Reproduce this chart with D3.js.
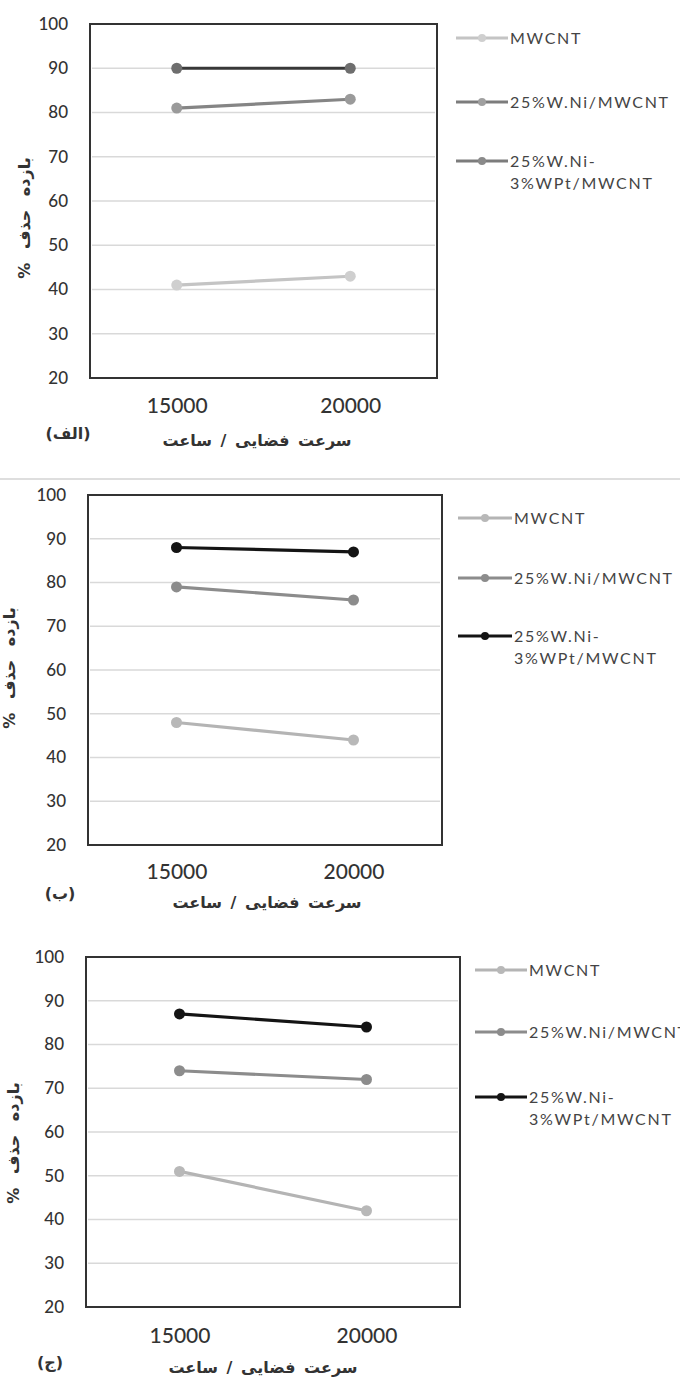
<!DOCTYPE html>
<html>
<head>
<meta charset="utf-8">
<script src="https://cdn.jsdelivr.net/npm/d3@7"></script>
<style>
html,body{margin:0;padding:0;background:#fff;}
svg{display:block;}
</style>
</head>
<body>
<svg id="chart" width="680" height="1378"></svg>
<script>
// ---------- data ----------
const categories = ["15000", "20000"];
const seriesNames = ["MWCNT", "25%W.Ni/MWCNT", "25%W.Ni-|3%WPt/MWCNT"];
const yTicks = [20, 30, 40, 50, 60, 70, 80, 90, 100];
const panelLabels = ["(الف)", "(ب)", "(ج)"];
const xTitle = "سرعت فضایی / ساعت";
const yTitle = "بازده حذف %";

const panelA_MWCNT = [41, 43];
const panelA_Ni = [81, 83];
const panelA_NiPt = [90, 90];

const panelB_MWCNT = [48, 44];
const panelB_Ni = [79, 76];
const panelB_NiPt = [88, 87];

const panelC_MWCNT = [51, 42];
const panelC_Ni = [74, 72];
const panelC_NiPt = [87, 84];

// ---------- layout / style ----------
const panels = [
  {
    data: [panelA_MWCNT, panelA_Ni, panelA_NiPt],
    box: {l: 90, r: 437, t: 24, b: 378},
    lineCol: ["#c4c4c4", "#858585", "#383838"],
    dotCol: ["#cfcfcf", "#9a9a9a", "#6e6e6e"],
    legCol: ["#c4c4c4", "#7c7c7c", "#7c7c7c"],
    legDot: ["#cfcfcf", "#a0a0a0", "#8a8a8a"],
    leg: {x1: 456, x2: 508, tx: 510, rows: [38, 102, 161]},
    xTickY: 406, labelX: 68, labelY: 434, xTitleX: 257, xTitleY: 441,
    yTitleX: 25, yTitleY: 218
  },
  {
    data: [panelB_MWCNT, panelB_Ni, panelB_NiPt],
    box: {l: 88, r: 442, t: 495, b: 845},
    lineCol: ["#b4b4b4", "#8c8c8c", "#141414"],
    dotCol: ["#b8b8b8", "#8c8c8c", "#141414"],
    legCol: ["#b4b4b4", "#8c8c8c", "#141414"],
    legDot: ["#b8b8b8", "#8c8c8c", "#141414"],
    leg: {x1: 458, x2: 512, tx: 514, rows: [518, 578, 636]},
    xTickY: 872, labelX: 60, labelY: 894, xTitleX: 267, xTitleY: 903,
    yTitleX: 10, yTitleY: 668
  },
  {
    data: [panelC_MWCNT, panelC_Ni, panelC_NiPt],
    box: {l: 86, r: 460, t: 957, b: 1307},
    lineCol: ["#b4b4b4", "#8c8c8c", "#141414"],
    dotCol: ["#b8b8b8", "#8c8c8c", "#141414"],
    legCol: ["#b4b4b4", "#8c8c8c", "#141414"],
    legDot: ["#b8b8b8", "#8c8c8c", "#141414"],
    leg: {x1: 475, x2: 527, tx: 529, rows: [970, 1032, 1097]},
    xTickY: 1336, labelX: 50, labelY: 1363, xTitleX: 263, xTitleY: 1368,
    yTitleX: 14, yTitleY: 1143
  }
];

const svg = d3.select("#chart");
const numFont = "Lato, 'Open Sans', sans-serif";
const faFont = "'DejaVu Sans', sans-serif";

// divider between panel 1 and 2
svg.append("line").attr("x1", 0).attr("x2", 680).attr("y1", 479).attr("y2", 479)
  .attr("stroke", "#dedede").attr("stroke-width", 2);

panels.forEach((p, pi) => {
  const g = svg.append("g");
  const x = d3.scalePoint().domain(categories).range([p.box.l, p.box.r]).padding(0.5);
  const y = d3.scaleLinear().domain([20, 100]).range([p.box.b, p.box.t]);

  // gridlines
  g.selectAll(".grid").data(yTicks.filter(t => t > 20 && t < 100)).enter().append("line")
    .attr("x1", p.box.l + 2).attr("x2", p.box.r - 2)
    .attr("y1", d => y(d)).attr("y2", d => y(d))
    .attr("stroke", "#d9d9d9").attr("stroke-width", 1.6);

  // y axis tick labels via d3 axis
  const yAxis = d3.axisLeft(y).tickValues(yTicks).tickSize(0).tickPadding(22).tickFormat(d3.format("d"));
  const ya = g.append("g").attr("transform", `translate(${p.box.l},0)`).call(yAxis);
  ya.select(".domain").remove();
  ya.selectAll("text").attr("font-family", numFont).attr("font-size", 17)
    .attr("fill", "#333").attr("font-weight", 500);

  // x axis labels
  const xAxis = d3.axisBottom(x).tickSize(0).tickPadding(0);
  const xa = g.append("g").attr("transform", `translate(0,${p.xTickY})`).call(xAxis);
  xa.select(".domain").remove();
  xa.selectAll("text").attr("font-family", numFont).attr("font-size", 21)
    .attr("fill", "#333").attr("dy", "0.35em").attr("y", 0).attr("font-weight", 500);

  // plot border
  g.append("rect").attr("x", p.box.l).attr("y", p.box.t)
    .attr("width", p.box.r - p.box.l).attr("height", p.box.b - p.box.t)
    .attr("fill", "none").attr("stroke", "#333").attr("stroke-width", 2);

  // lines
  const line = d3.line().x((d, i) => x(categories[i])).y(d => y(d));
  p.data.forEach((vals, si) => {
    g.append("path").datum(vals).attr("d", line)
      .attr("fill", "none").attr("stroke", p.lineCol[si]).attr("stroke-width", 3.2);
    g.selectAll(null).data(vals).enter().append("circle")
      .attr("cx", (d, i) => x(categories[i])).attr("cy", d => y(d)).attr("r", 5.5)
      .attr("fill", p.dotCol[si]);
  });

  // legend
  seriesNames.forEach((name, si) => {
    const ry = p.leg.rows[si];
    g.append("line").attr("x1", p.leg.x1).attr("x2", p.leg.x2).attr("y1", ry).attr("y2", ry)
      .attr("stroke", p.legCol[si]).attr("stroke-width", 3);
    g.append("circle").attr("cx", (p.leg.x1 + p.leg.x2) / 2).attr("cy", ry).attr("r", 4)
      .attr("fill", p.legDot[si]);
    const parts = name.split("|");
    const t = g.append("text").attr("x", p.leg.tx).attr("y", ry)
      .attr("font-family", numFont).attr("font-size", 16).attr("fill", "#444")
      .attr("letter-spacing", 1.7);
    parts.forEach((s, k) => {
      t.append("tspan").attr("x", p.leg.tx).attr("dy", k === 0 ? "0.35em" : "1.4em").text(s);
    });
  });

  // panel label
  g.append("text").attr("x", p.labelX).attr("y", p.labelY).attr("text-anchor", "middle")
    .attr("dominant-baseline", "middle").attr("font-family", faFont).attr("font-size", 16)
    .attr("font-weight", "bold").attr("fill", "#333").attr("direction", "rtl").text(panelLabels[pi]);

  // x title
  g.append("text").attr("x", p.xTitleX).attr("y", p.xTitleY).attr("text-anchor", "middle")
    .attr("dominant-baseline", "middle").attr("font-family", faFont).attr("font-size", 16)
    .attr("font-weight", "bold").attr("fill", "#333").attr("direction", "rtl")
    .attr("word-spacing", 3).text(xTitle);

  // y title
  g.append("text").attr("transform", `translate(${p.yTitleX},${p.yTitleY}) rotate(-90)`)
    .attr("text-anchor", "middle").attr("dominant-baseline", "middle")
    .attr("font-family", faFont).attr("font-size", 16).attr("font-weight", "bold")
    .attr("fill", "#333").attr("direction", "rtl").attr("word-spacing", 8).text(yTitle);
});
</script>
</body>
</html>
